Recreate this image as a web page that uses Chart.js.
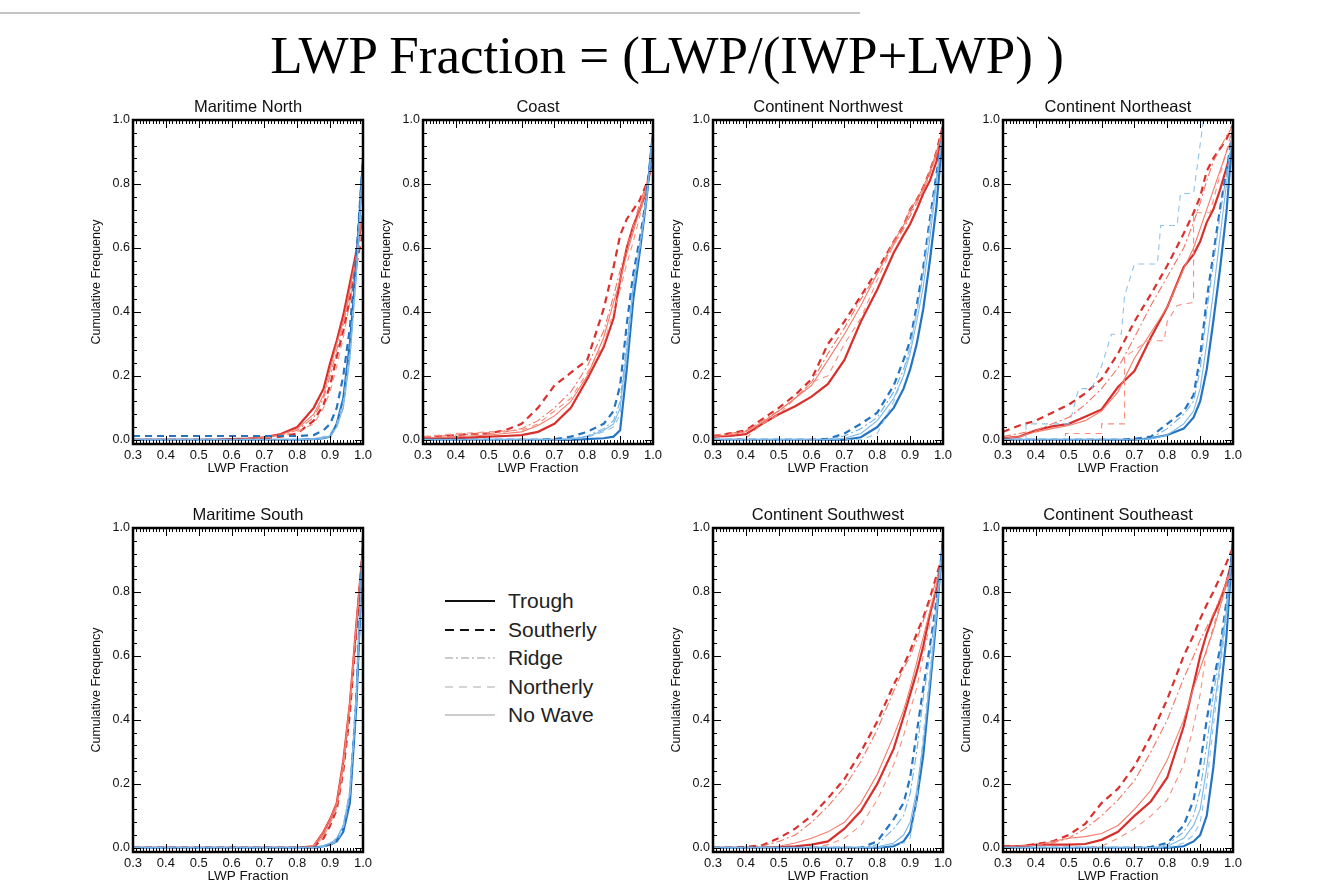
<!DOCTYPE html>
<html>
<head>
<meta charset="utf-8">
<script src="https://cdn.jsdelivr.net/npm/chart.js@4.4.1/dist/chart.umd.min.js"></script>
<style>
  body { margin: 0; width: 1334px; height: 888px; overflow: hidden; background: #fff; position: relative; font-family: "Liberation Sans", Arial, sans-serif; }
  .rule { position: absolute; left: 0; top: 12px; width: 860px; height: 2px; background: #c4c4c4; }
  .main { position: absolute; left: 0; top: 29px; width: 1334px; text-align: center; font: 53px/1 "Liberation Serif", "Times New Roman", serif; color: #000; }
  canvas { position: absolute; }
  .key { position: absolute; left: 445px; height: 24px; display: flex; align-items: center; font-size: 21px; color: #222; }
  .key svg { margin-right: 13px; }
</style>
</head>
<body>
<div class="rule"></div>
<div class="main">LWP Fraction = (LWP/(IWP+LWP) )</div>
<div id="legend"></div>

<script>
const lwpGrid = [0.30, 0.35, 0.40, 0.45, 0.50, 0.55, 0.60, 0.65, 0.70, 0.75, 0.80, 0.85, 0.88, 0.90, 0.92, 0.94, 0.96, 0.98, 1.00];
const regimes = ['Trough', 'Southerly', 'Ridge', 'Northerly', 'No Wave'];
const panelTitles = ['Maritime North', 'Coast', 'Continent Northwest', 'Continent Northeast', 'Maritime South', 'Continent Southwest', 'Continent Southeast'];
const xTicks = [0.3, 0.4, 0.5, 0.6, 0.7, 0.8, 0.9, 1.0];
const yTicks = [0, 0.2, 0.4, 0.6, 0.8, 1.0];

// rows: trough, southerly, ridge, northerly, no wave
const maritimeNorthRed = [
  [0, 0, 0, 0, 0, 0, 0.002, 0.004, 0.008, 0.018, 0.04, 0.1, 0.16, 0.24, 0.31, 0.39, 0.49, 0.59, 0.70],
  [0, 0, 0, 0, 0, 0, 0, 0.002, 0.005, 0.01, 0.02, 0.06, 0.11, 0.17, 0.26, 0.34, 0.44, 0.55, 0.65],
  [0, 0, 0, 0, 0, 0, 0, 0.002, 0.006, 0.014, 0.03, 0.07, 0.13, 0.2, 0.28, 0.36, 0.46, 0.57, 0.70],
  [0, 0, 0, 0, 0, 0, 0, 0.002, 0.005, 0.012, 0.025, 0.05, 0.1, 0.15, 0.23, 0.32, 0.43, 0.55, 0.68],
  [0, 0, 0, 0, 0, 0, 0.002, 0.004, 0.008, 0.016, 0.035, 0.08, 0.14, 0.22, 0.3, 0.37, 0.47, 0.58, 0.72]
];
const maritimeNorthBlue = [
  [0, 0, 0, 0, 0, 0, 0, 0, 0, 0, 0, 0.002, 0.005, 0.01, 0.05, 0.13, 0.3, 0.55, 0.88],
  [0.012, 0.012, 0.012, 0.012, 0.012, 0.012, 0.012, 0.012, 0.012, 0.012, 0.012, 0.015, 0.03, 0.05, 0.1, 0.2, 0.35, 0.58, 0.88],
  [0, 0, 0, 0, 0, 0, 0, 0, 0, 0, 0, 0.002, 0.006, 0.012, 0.04, 0.1, 0.26, 0.52, 0.86],
  [0, 0, 0, 0, 0, 0, 0, 0, 0, 0, 0, 0.003, 0.01, 0.02, 0.05, 0.12, 0.28, 0.54, 0.87],
  [0, 0, 0, 0, 0, 0, 0, 0, 0, 0, 0, 0.002, 0.005, 0.01, 0.04, 0.1, 0.25, 0.52, 0.86]
];
const coastRed = [
  [0.005, 0.005, 0.005, 0.008, 0.01, 0.012, 0.015, 0.025, 0.05, 0.1, 0.19, 0.29, 0.38, 0.5, 0.6, 0.67, 0.72, 0.78, 0.89],
  [0.005, 0.01, 0.015, 0.018, 0.02, 0.03, 0.05, 0.1, 0.17, 0.21, 0.25, 0.41, 0.54, 0.64, 0.69, 0.72, 0.75, 0.8, 0.87],
  [0.01, 0.012, 0.015, 0.018, 0.02, 0.025, 0.035, 0.06, 0.1, 0.15, 0.23, 0.34, 0.45, 0.53, 0.6, 0.67, 0.74, 0.8, 0.88],
  [0.01, 0.015, 0.02, 0.022, 0.025, 0.028, 0.03, 0.05, 0.09, 0.13, 0.21, 0.3, 0.4, 0.47, 0.55, 0.62, 0.7, 0.79, 0.88],
  [0.005, 0.008, 0.01, 0.012, 0.015, 0.02, 0.025, 0.045, 0.075, 0.12, 0.2, 0.32, 0.43, 0.5, 0.58, 0.65, 0.72, 0.79, 0.88]
];
const coastBlue = [
  [0, 0, 0, 0, 0, 0, 0, 0, 0, 0, 0.002, 0.005, 0.01, 0.03, 0.22, 0.44, 0.59, 0.75, 0.96],
  [0, 0, 0, 0, 0, 0, 0, 0, 0.002, 0.01, 0.025, 0.05, 0.09, 0.17, 0.36, 0.52, 0.63, 0.76, 0.96],
  [0, 0, 0, 0, 0, 0, 0, 0, 0, 0.004, 0.012, 0.035, 0.06, 0.12, 0.3, 0.49, 0.61, 0.75, 0.96],
  [0, 0, 0, 0, 0, 0, 0, 0, 0, 0.002, 0.008, 0.025, 0.04, 0.08, 0.26, 0.47, 0.6, 0.75, 0.96],
  [0, 0, 0, 0, 0, 0, 0, 0, 0, 0.003, 0.01, 0.03, 0.05, 0.1, 0.28, 0.48, 0.61, 0.75, 0.96]
];
const northwestRed = [
  [0.01, 0.012, 0.018, 0.05, 0.08, 0.105, 0.135, 0.175, 0.25, 0.37, 0.47, 0.585, 0.64, 0.675, 0.72, 0.77, 0.81, 0.87, 0.975],
  [0.01, 0.02, 0.03, 0.065, 0.1, 0.14, 0.19, 0.3, 0.37, 0.45, 0.53, 0.62, 0.67, 0.72, 0.75, 0.79, 0.84, 0.9, 0.985],
  [0.015, 0.02, 0.028, 0.06, 0.09, 0.13, 0.18, 0.27, 0.35, 0.44, 0.52, 0.61, 0.66, 0.7, 0.74, 0.78, 0.83, 0.89, 0.98],
  [0, 0, 0.005, 0.05, 0.08, 0.13, 0.18, 0.2, 0.3, 0.38, 0.5, 0.61, 0.66, 0.71, 0.74, 0.78, 0.83, 0.89, 0.98],
  [0.01, 0.015, 0.025, 0.055, 0.09, 0.13, 0.17, 0.25, 0.33, 0.42, 0.52, 0.62, 0.67, 0.72, 0.75, 0.79, 0.84, 0.9, 0.97]
];
const northwestBlue = [
  [0, 0, 0, 0, 0, 0, 0, 0, 0, 0.008, 0.04, 0.1, 0.16, 0.22, 0.3, 0.41, 0.56, 0.73, 0.97],
  [0, 0, 0, 0, 0, 0, 0, 0.003, 0.02, 0.05, 0.085, 0.17, 0.25, 0.31, 0.42, 0.54, 0.69, 0.83, 0.97],
  [0, 0, 0, 0, 0, 0, 0, 0.002, 0.012, 0.035, 0.07, 0.15, 0.22, 0.29, 0.4, 0.52, 0.67, 0.82, 0.97],
  [0, 0, 0, 0, 0, 0, 0, 0, 0, 0, 0.02, 0.12, 0.2, 0.29, 0.4, 0.52, 0.67, 0.82, 0.97],
  [0, 0, 0, 0, 0, 0, 0, 0, 0.005, 0.02, 0.06, 0.13, 0.2, 0.27, 0.37, 0.48, 0.63, 0.8, 0.97]
];
// northerly rows of this panel are step curves, kept separately below
const northeastRed = [
  [0.005, 0.01, 0.03, 0.042, 0.05, 0.072, 0.095, 0.165, 0.215, 0.32, 0.415, 0.54, 0.58, 0.62, 0.68, 0.72, 0.78, 0.85, 0.92],
  [0.025, 0.045, 0.06, 0.085, 0.11, 0.145, 0.19, 0.27, 0.37, 0.455, 0.545, 0.645, 0.71, 0.76, 0.84, 0.88, 0.91, 0.94, 0.985],
  [0.01, 0.02, 0.03, 0.05, 0.07, 0.11, 0.16, 0.225, 0.32, 0.42, 0.51, 0.6, 0.68, 0.74, 0.81, 0.87, 0.91, 0.95, 0.98],
  null,
  [0.005, 0.01, 0.025, 0.035, 0.045, 0.06, 0.09, 0.15, 0.255, 0.335, 0.415, 0.535, 0.6, 0.66, 0.72, 0.78, 0.84, 0.9, 0.95]
];
const northeastBlue = [
  [0, 0, 0, 0, 0, 0, 0, 0, 0, 0.005, 0.015, 0.035, 0.07, 0.12, 0.22, 0.37, 0.53, 0.71, 0.97],
  [0, 0, 0, 0, 0, 0, 0, 0, 0.003, 0.01, 0.05, 0.09, 0.14, 0.26, 0.44, 0.58, 0.72, 0.84, 0.97],
  [0, 0, 0, 0, 0, 0, 0, 0, 0, 0.005, 0.035, 0.08, 0.12, 0.22, 0.4, 0.55, 0.7, 0.83, 0.97],
  null,
  [0, 0, 0, 0, 0, 0, 0, 0, 0, 0.003, 0.015, 0.05, 0.09, 0.16, 0.3, 0.46, 0.63, 0.8, 0.97]
];
const northeastRedNortherlyX = [0.3, 0.49, 0.49, 0.6, 0.6, 0.67, 0.67, 0.7, 0.74, 0.79, 0.8, 0.83, 0.88, 0.88, 0.93, 1.0];
const northeastRedNortherlyY = [0, 0, 0.02, 0.02, 0.05, 0.05, 0.26, 0.28, 0.31, 0.31, 0.37, 0.42, 0.43, 0.71, 0.71, 0.98];
const northeastBlueNortherlyX = [0.3, 0.37, 0.37, 0.5, 0.51, 0.53, 0.57, 0.6, 0.63, 0.66, 0.67, 0.7, 0.77, 0.78, 0.83, 0.84, 0.88, 0.91, 1.0];
const northeastBlueNortherlyY = [0, 0, 0.05, 0.05, 0.08, 0.16, 0.16, 0.23, 0.33, 0.33, 0.45, 0.55, 0.55, 0.67, 0.67, 0.77, 0.77, 1.0, 1.0];
const maritimeSouthRed = [
  [0, 0, 0, 0, 0, 0, 0, 0, 0, 0, 0, 0.005, 0.05, 0.09, 0.14, 0.27, 0.45, 0.7, 0.94],
  [0, 0, 0, 0, 0, 0, 0, 0, 0, 0, 0, 0.003, 0.03, 0.07, 0.12, 0.24, 0.42, 0.68, 0.94],
  [0, 0, 0, 0, 0, 0, 0, 0, 0, 0, 0, 0.004, 0.04, 0.08, 0.13, 0.26, 0.44, 0.7, 0.94],
  [0, 0, 0, 0, 0, 0, 0, 0, 0, 0, 0, 0.003, 0.035, 0.075, 0.125, 0.25, 0.43, 0.69, 0.94],
  [0, 0, 0, 0, 0, 0, 0, 0, 0, 0, 0.002, 0.006, 0.05, 0.09, 0.14, 0.27, 0.46, 0.71, 0.94]
];
const maritimeSouthBlue = [
  [0, 0, 0, 0, 0, 0, 0, 0, 0, 0, 0, 0, 0.005, 0.01, 0.02, 0.05, 0.14, 0.45, 0.97],
  [0, 0, 0, 0, 0, 0, 0, 0, 0, 0, 0, 0, 0.005, 0.012, 0.025, 0.06, 0.16, 0.47, 0.97],
  [0, 0, 0, 0, 0, 0, 0, 0, 0, 0, 0, 0, 0.006, 0.015, 0.03, 0.07, 0.18, 0.48, 0.97],
  [0, 0, 0, 0, 0, 0, 0, 0, 0, 0, 0, 0, 0.004, 0.01, 0.02, 0.06, 0.16, 0.46, 0.97],
  [0, 0, 0, 0, 0, 0, 0, 0, 0, 0, 0, 0, 0.006, 0.014, 0.03, 0.07, 0.17, 0.47, 0.97]
];
const southwestRed = [
  [0, 0, 0, 0, 0.002, 0.005, 0.01, 0.02, 0.06, 0.115, 0.2, 0.31, 0.41, 0.48, 0.55, 0.63, 0.73, 0.81, 0.92],
  [0, 0, 0.003, 0.008, 0.03, 0.06, 0.1, 0.155, 0.215, 0.3, 0.395, 0.51, 0.57, 0.615, 0.67, 0.72, 0.78, 0.85, 0.92],
  [0, 0, 0.002, 0.006, 0.02, 0.04, 0.08, 0.13, 0.19, 0.27, 0.37, 0.49, 0.56, 0.6, 0.65, 0.71, 0.77, 0.84, 0.91],
  [0, 0, 0, 0, 0, 0, 0, 0.01, 0.03, 0.07, 0.15, 0.26, 0.35, 0.43, 0.5, 0.6, 0.7, 0.8, 0.9],
  [0, 0, 0, 0, 0.005, 0.015, 0.03, 0.05, 0.08, 0.14, 0.23, 0.35, 0.43, 0.5, 0.58, 0.66, 0.74, 0.82, 0.91]
];
const southwestBlue = [
  [0, 0, 0, 0, 0, 0, 0, 0, 0, 0, 0, 0.005, 0.02, 0.05, 0.15, 0.29, 0.5, 0.72, 0.97],
  [0, 0, 0, 0, 0, 0, 0, 0, 0, 0, 0.02, 0.09, 0.14, 0.22, 0.36, 0.5, 0.63, 0.77, 0.96],
  [0, 0, 0, 0, 0, 0, 0, 0, 0, 0, 0.01, 0.06, 0.1, 0.17, 0.3, 0.47, 0.6, 0.76, 0.96],
  [0, 0, 0, 0, 0, 0, 0, 0, 0, 0, 0, 0.01, 0.015, 0.03, 0.15, 0.35, 0.55, 0.74, 0.96],
  [0, 0, 0, 0, 0, 0, 0, 0, 0, 0, 0.003, 0.015, 0.04, 0.08, 0.18, 0.33, 0.52, 0.73, 0.96]
];
const southeastRed = [
  [0.005, 0.005, 0.01, 0.01, 0.01, 0.012, 0.025, 0.05, 0.1, 0.145, 0.22, 0.38, 0.51, 0.6, 0.67, 0.725, 0.77, 0.83, 0.91],
  [0.005, 0.005, 0.012, 0.02, 0.04, 0.075, 0.14, 0.185, 0.255, 0.35, 0.465, 0.6, 0.665, 0.715, 0.76, 0.8, 0.845, 0.89, 0.94],
  [0.003, 0.005, 0.008, 0.015, 0.03, 0.06, 0.1, 0.15, 0.21, 0.3, 0.4, 0.53, 0.6, 0.65, 0.69, 0.73, 0.78, 0.83, 0.9],
  [0, 0, 0, 0, 0, 0, 0.005, 0.03, 0.06, 0.1, 0.15, 0.26, 0.38, 0.48, 0.62, 0.69, 0.76, 0.83, 0.9],
  [0.003, 0.005, 0.008, 0.02, 0.03, 0.035, 0.045, 0.07, 0.12, 0.18, 0.275, 0.4, 0.5, 0.56, 0.62, 0.68, 0.75, 0.82, 0.89]
];
const southeastBlue = [
  [0, 0, 0, 0, 0, 0, 0, 0, 0, 0, 0, 0.005, 0.02, 0.04, 0.1, 0.25, 0.46, 0.66, 0.97],
  [0, 0, 0, 0, 0, 0, 0, 0, 0, 0.003, 0.015, 0.07, 0.15, 0.26, 0.4, 0.52, 0.62, 0.77, 0.95],
  [0, 0, 0, 0, 0, 0, 0, 0, 0, 0, 0.01, 0.05, 0.1, 0.18, 0.32, 0.48, 0.6, 0.76, 0.95],
  [0, 0, 0, 0, 0, 0, 0, 0, 0, 0, 0, 0.015, 0.04, 0.08, 0.2, 0.38, 0.55, 0.72, 0.95],
  [0, 0, 0, 0, 0, 0, 0, 0, 0, 0, 0.005, 0.03, 0.07, 0.12, 0.25, 0.42, 0.57, 0.74, 0.95]
];

const panelRed = [maritimeNorthRed, coastRed, northwestRed, northeastRed, maritimeSouthRed, southwestRed, southeastRed];
const panelBlue = [maritimeNorthBlue, coastBlue, northwestBlue, northeastBlue, maritimeSouthBlue, southwestBlue, southeastBlue];

// plot box (frame) positions on the page
const boxLeft = [133, 423, 713, 1003, 133, 713, 1003];
const boxTop = [120, 120, 120, 120, 528, 528, 528];
const boxW = 230, boxH = 324;

const lineWidth = [2.2, 2.2, 1.1, 1.1, 1.1];
const lineDash = [[], [7, 5], [8, 3, 2, 3], [6, 5], []];
const reds = ['#d8302c', '#d8302c', '#f07464', '#f58f80', '#f27c6c'];
const blues = ['#2574c2', '#2574c2', '#6fb0e3', '#8fc3ec', '#7cb8e7'];
const fontFamily = 'Liberation Sans, Arial, sans-serif';

function pairs(xs, ys) {
  return xs.map((x, i) => ({ x: x, y: ys[i] }));
}

const framePlugin = {
  id: 'frame',
  afterDatasetsDraw(chart) {
    const { ctx, chartArea: a, scales } = chart;
    ctx.save();
    ctx.strokeStyle = '#000';
    ctx.lineWidth = 1;
    ctx.beginPath();
    for (let i = 30; i <= 100; i++) {
      const px = Math.round(scales.x.getPixelForValue(i / 100)) + 0.5;
      const len = i % 10 === 0 ? 8 : 4;
      ctx.moveTo(px, a.bottom); ctx.lineTo(px, a.bottom - len);
      ctx.moveTo(px, a.top); ctx.lineTo(px, a.top + len);
    }
    for (let i = 0; i <= 25; i++) {
      const py = Math.round(scales.y.getPixelForValue(i * 0.04)) + 0.5;
      const len = i % 5 === 0 ? 8 : 4;
      ctx.moveTo(a.left, py); ctx.lineTo(a.left + len, py);
      ctx.moveTo(a.right, py); ctx.lineTo(a.right - len, py);
    }
    ctx.stroke();
    ctx.lineWidth = 2.5;
    ctx.strokeRect(a.left, a.top, a.width, a.height);
    ctx.restore();
  }
};

panelTitles.forEach((title, p) => {
  const canvas = document.createElement('canvas');
  canvas.width = boxW + 100;
  canvas.height = boxH + 65;
  canvas.style.left = (boxLeft[p] - 50) + 'px';
  canvas.style.top = (boxTop[p] - 25) + 'px';
  document.body.appendChild(canvas);

  const datasets = [];
  [[panelBlue[p], blues, 'blue'], [panelRed[p], reds, 'red']].forEach(([rows, colors, tone]) => {
    for (let r = 4; r >= 0; r--) {
      let pts;
      if (rows[r]) {
        pts = pairs(lwpGrid, rows[r]);
      } else if (tone === 'red') {
        pts = pairs(northeastRedNortherlyX, northeastRedNortherlyY);
      } else {
        pts = pairs(northeastBlueNortherlyX, northeastBlueNortherlyY);
      }
      datasets.push({
        label: regimes[r] + ' ' + tone,
        data: pts,
        borderColor: colors[r],
        borderWidth: lineWidth[r],
        borderDash: lineDash[r],
        pointRadius: 0,
        tension: 0,
        fill: false
      });
    }
  });

  new Chart(canvas, {
    type: 'line',
    data: { datasets: datasets },
    plugins: [framePlugin],
    options: {
      responsive: false,
      animation: false,
      layout: { padding: 0 },
      plugins: {
        legend: { display: false },
        tooltip: { enabled: false },
        title: {
          display: true,
          text: title,
          color: '#111',
          font: { family: fontFamily, size: 16.5, weight: 'normal', lineHeight: 1.2 },
          padding: { top: 3, bottom: 2.2 }
        }
      },
      scales: {
        x: {
          type: 'linear',
          min: 0.3,
          max: 1.0,
          afterBuildTicks: s => { s.ticks = xTicks.map(v => ({ value: v })); },
          afterFit: s => { s.height = 40; },
          grid: { display: false, drawTicks: false },
          border: { display: false },
          ticks: {
            padding: 4,
            maxRotation: 0,
            autoSkip: false,
            color: '#111',
            font: { family: fontFamily, size: 13 },
            callback: v => Number(v).toFixed(1)
          },
          title: {
            display: true,
            text: 'LWP Fraction',
            color: '#111',
            font: { family: fontFamily, size: 13.5 },
            padding: { top: 0, bottom: 8 }
          }
        },
        y: {
          type: 'linear',
          min: -0.013,
          max: 1.0,
          afterBuildTicks: s => { s.ticks = yTicks.map(v => ({ value: v })); },
          afterFit: s => { s.width = 50; },
          grid: { display: false, drawTicks: false },
          border: { display: false },
          ticks: {
            padding: 3,
            color: '#111',
            font: { family: fontFamily, size: 12.5 },
            callback: v => Number(v).toFixed(1)
          },
          title: {
            display: true,
            text: 'Cumulative Frequency',
            color: '#111',
            font: { family: fontFamily, size: 12.5 },
            padding: { top: 6, bottom: 0 }
          }
        },
        // empty right-hand box so the panel title centres over the plot
        yRight: {
          type: 'linear',
          position: 'right',
          min: 0,
          max: 1,
          afterFit: s => { s.width = 50; },
          grid: { display: false, drawTicks: false },
          border: { display: false },
          ticks: { display: false }
        }
      }
    }
  });
});

// legend of line styles
const keyColor = ['#111', '#111', '#999', '#aaa', '#999'];
const keyDash = ['', '9,6', '8,3,2,3', '8,6', ''];
const keyWidth = [2, 2, 1, 1, 1];
const legend = document.getElementById('legend');
regimes.forEach((name, r) => {
  const row = document.createElement('div');
  row.className = 'key';
  row.style.top = (589 + r * 28.5) + 'px';
  row.innerHTML = '<svg width="50" height="6"><line x1="0" y1="3" x2="50" y2="3" stroke="' + keyColor[r] +
    '" stroke-width="' + keyWidth[r] + '" stroke-dasharray="' + keyDash[r] + '"/></svg><span>' + name + '</span>';
  legend.appendChild(row);
});
</script>
</body>
</html>
